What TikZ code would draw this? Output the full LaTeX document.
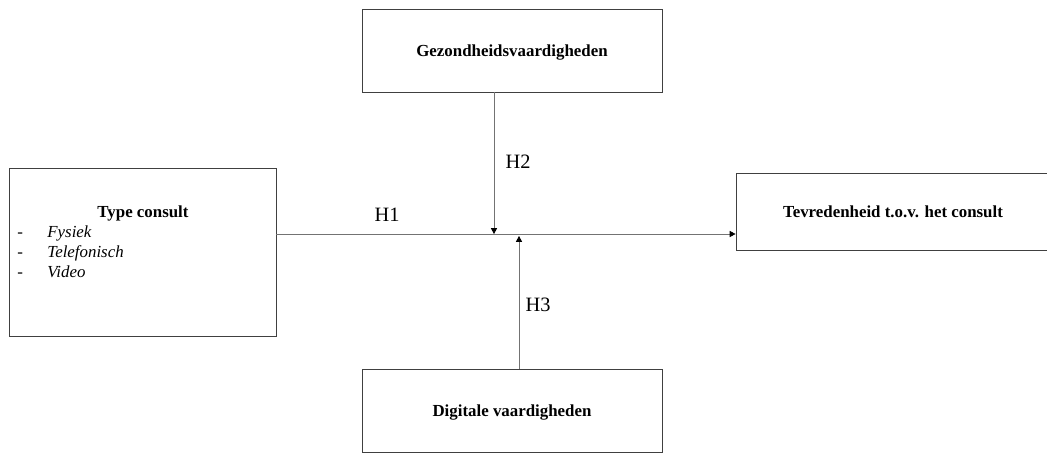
\documentclass[tikz,border=0pt]{standalone}
\usepackage{fontspec}
\setmainfont{Liberation Serif}
\usetikzlibrary{positioning}
\usetikzlibrary{arrows.meta}
\tikzset{
	every path/.style={line width=0.6pt},
	box/.style={draw=black!75, rectangle, inner sep=0pt, text depth=0pt, font=\fontsize{12}{14}\selectfont\bfseries},
	hyp/.style={font=\fontsize{14.5}{16}\selectfont},
	item/.style={font=\fontsize{12}{14}\selectfont, text height=8pt, text depth=2pt, inner sep=0pt},
	link/.style={draw=black!55, -{Triangle[length=4.2pt,width=4.4pt,black]}}
}
\begin{document}
\begin{tikzpicture}[x=0.025cm, y=-0.025cm]
			\useasboundingbox (0,0) rectangle (1047,453);
			
			% boxes
			\node (type) [box, minimum width=6.675cm, minimum height=4.2cm] at (142.5,252) {};
			\node (gez) [box, minimum width=7.5cm, minimum height=2.075cm] at (512,50.5) {Gezondheidsvaardigheden};
			\node (tevr) [box, minimum width=7.85cm, minimum height=1.925cm] at (893,211.5) {Tevredenheid t.o.v. het consult};
			\node (dig) [box, minimum width=7.5cm, minimum height=2.075cm] at (512,410.5) {Digitale vaardigheden};
			
			% text in type consult
			\node (typetitle) [box, draw=none] at (143,212) {Type consult};
			\foreach \i/\t in {0/Fysiek,1/Telefonisch,2/Video}{
				\node (dash\i) [item, anchor=west] at (17,233+20*\i) {-};
				\node (opt\i) [item, anchor=west] at (47,233+20*\i) {\textit{\t}};
			}
			
			% connectors
			\coordinate (hline) at (494,234);
			\coordinate (hup) at (519,236);
			\path[link] (type.east |- hline) -- (hline -| tevr.west);
			\path[link] (gez.south -| hline) -- (hline);
			\path[link] (dig.north -| hup) -- (hup);
			
			% labels
			\node (h1) [hyp] at (387,215) {H1};
			\node (h2) [hyp] at (518,162) {H2};
			\node (h3) [hyp] at (538,305) {H3};
			
		\end{tikzpicture}
\end{document}
